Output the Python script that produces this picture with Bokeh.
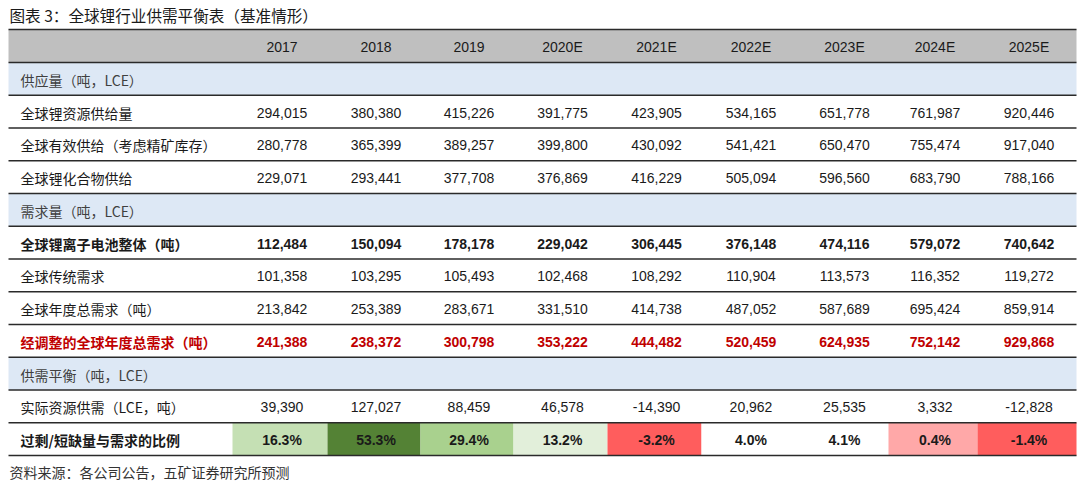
from bokeh.plotting import figure
from bokeh.models import ColumnDataSource
from bokeh.core.properties import value
from bokeh.embed import file_html
from bokeh.resources import INLINE

# ---------------- data ----------------
title = "图表 3：全球锂行业供需平衡表（基准情形）"
source_note = "资料来源：各公司公告，五矿证券研究所预测"
years = ["2017", "2018", "2019", "2020E", "2021E", "2022E", "2023E", "2024E", "2025E"]

supply_resource = [294015, 380380, 415226, 391775, 423905, 534165, 651778, 761987, 920446]
supply_effective = [280778, 365399, 389257, 399800, 430092, 541421, 650470, 755474, 917040]
supply_compound = [229071, 293441, 377708, 376869, 416229, 505094, 596560, 683790, 788166]
demand_battery = [112484, 150094, 178178, 229042, 306445, 376148, 474116, 579072, 740642]
demand_traditional = [101358, 103295, 105493, 102468, 108292, 110904, 113573, 116352, 119272]
demand_total = [213842, 253389, 283671, 331510, 414738, 487052, 587689, 695424, 859914]
demand_adjusted = [241388, 238372, 300798, 353222, 444482, 520459, 624935, 752142, 929868]
balance = [39390, 127027, 88459, 46578, -14390, 20962, 25535, 3332, -12828]
ratio_pct = [16.3, 53.3, 29.4, 13.2, -3.2, 4.0, 4.1, 0.4, -1.4]

# rows: (label, values, kind)
rows = [
    ("供应量（吨，LCE）", None, "section"),
    ("全球锂资源供给量", supply_resource, "normal"),
    ("全球有效供给（考虑精矿库存）", supply_effective, "normal"),
    ("全球锂化合物供给", supply_compound, "normal"),
    ("需求量（吨，LCE）", None, "section"),
    ("全球锂离子电池整体（吨）", demand_battery, "bold"),
    ("全球传统需求", demand_traditional, "normal"),
    ("全球年度总需求（吨）", demand_total, "normal"),
    ("经调整的全球年度总需求（吨）", demand_adjusted, "red"),
    ("供需平衡（吨，LCE）", None, "section"),
    ("实际资源供需（LCE，吨）", balance, "normal"),
    ("过剩/短缺量与需求的比例", ratio_pct, "ratio"),
]

# ---------------- styles / layout ----------------
ratio_fill = ["#c5e0b4", "#548235", "#a9d18e", "#e2efda", "#ff5d5d",
              "#ffffff", "#ffffff", "#ffa8a8", "#ff5d5d"]
col_edges = [8, 232, 327, 420, 513, 607, 701, 796, 888, 977, 1076]
header_top, header_bot = 29, 62
row_h = 32.75
CJK = "Noto Sans CJK SC"
LAT = "Liberation Sans"

p = figure(width=1080, height=482, x_range=(0, 1080), y_range=(482, 0),
           output_backend="svg", toolbar_location=None, min_border=0,
           min_border_left=0, min_border_right=0, min_border_top=0, min_border_bottom=0)
p.axis.visible = False
p.grid.visible = False
p.outline_line_color = None
p.background_fill_color = "white"
p.border_fill_color = "white"

# header background
p.quad(left=[col_edges[0]], right=[col_edges[-1]], top=[header_top], bottom=[header_bot],
       fill_color="#bfbfbf", line_color=None)

# section backgrounds and ratio cells
sec_l, sec_r, sec_t, sec_b = [], [], [], []
cell_l, cell_r, cell_t, cell_b, cell_c = [], [], [], [], []
for i, (lab, vals, kind) in enumerate(rows):
    t = header_bot + i * row_h
    b = t + row_h
    if kind == "section":
        sec_l.append(col_edges[0]); sec_r.append(col_edges[-1]); sec_t.append(t); sec_b.append(b)
    if kind == "ratio":
        for j in range(len(years)):
            cell_l.append(col_edges[j + 1]); cell_r.append(col_edges[j + 2])
            cell_t.append(t); cell_b.append(b); cell_c.append(ratio_fill[j])
p.quad(left=sec_l, right=sec_r, top=sec_t, bottom=sec_b, fill_color="#dde8f5", line_color=None)
p.quad(source=ColumnDataSource(dict(l=cell_l, r=cell_r, t=cell_t, b=cell_b, c=cell_c)),
       left="l", right="r", top="t", bottom="b", fill_color="c", line_color=None)

# horizontal rules
ys = [header_top, header_bot] + [header_bot + (i + 1) * row_h for i in range(len(rows))]
p.segment(x0=[col_edges[0]] * len(ys), x1=[col_edges[-1]] * len(ys), y0=ys, y1=ys,
          line_color="#2a2a2a", line_width=1.6)

# header texts
hx = [(col_edges[j + 1] + col_edges[j + 2]) / 2 + 2 for j in range(len(years))]
p.text(x=hx, y=[(header_top + header_bot) / 2 + 1] * len(years), text=years,
       text_font=value(LAT), text_font_size=value("14px"), text_align="center",
       text_baseline="middle", text_color="#1a1a1a")

# row labels and values
def fmt(v, kind):
    if kind == "ratio":
        return f"{v:.1f}%"
    return f"{v:,}"

for i, (lab, vals, kind) in enumerate(rows):
    yc = header_bot + i * row_h + row_h / 2 + 1
    color = "#c00000" if kind == "red" else "#1a1a1a"
    style = "bold" if kind in ("bold", "red", "ratio") else "normal"
    lab_color = "#404040" if kind == "section" else color
    p.text(x=[20], y=[yc], text=[lab], text_font=value(CJK), text_font_size=value("14px"),
           text_align="left", text_baseline="middle", text_color=lab_color,
           text_font_style=style)
    if vals is not None:
        p.text(x=hx, y=[yc] * len(vals), text=[fmt(v, kind) for v in vals],
               text_font=value(LAT), text_font_size=value("14px"), text_align="center",
               text_baseline="middle", text_color=color, text_font_style=style)

# title and source
p.text(x=[9], y=[14], text=[title], text_font=value(CJK), text_font_size=value("15.6px"),
       text_align="left", text_baseline="middle", text_color="#1a1a1a")
p.text(x=[9], y=[471], text=[source_note], text_font=value(CJK), text_font_size=value("14px"),
       text_align="left", text_baseline="middle", text_color="#333333")

open("out.html", "w").write(file_html(p, INLINE))
